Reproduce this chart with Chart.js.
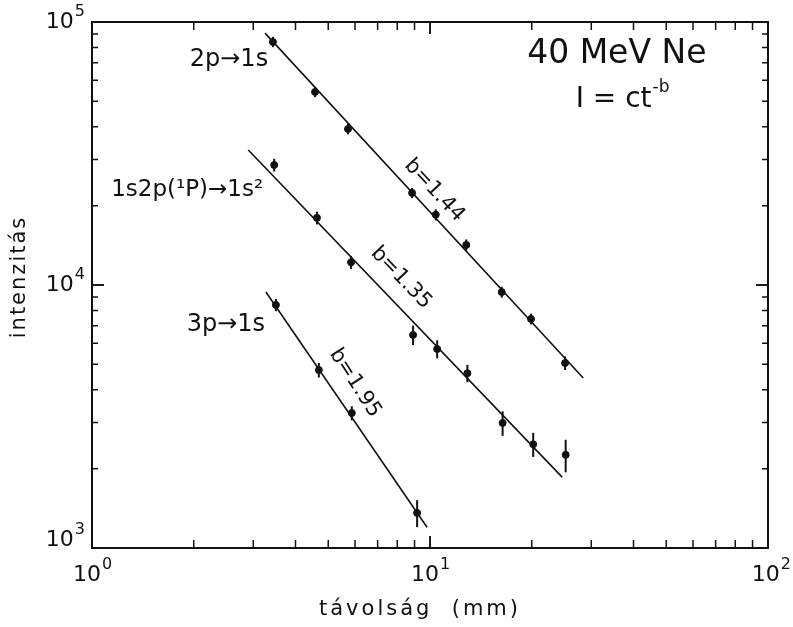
<!DOCTYPE html>
<html>
<head>
  <meta charset="utf-8">
  <title>40 MeV Ne - intenzitás</title>
  <script src="https://cdn.jsdelivr.net/npm/chart.js"></script>
  <style>
    body { margin: 0; background: #fff; }
    #wrap { width: 793px; height: 627px; }
  </style>
</head>
<body>
<div id="wrap"><canvas id="chart"></canvas></div>

<script>
// távolság (mm) / intenzitás
const x2p = [3.43, 4.57, 5.72, 8.85, 10.4, 12.8, 16.3, 19.9, 25.1];
const y2p = [84000, 54200, 39200, 22400, 18500, 14200, 9400, 7430, 5050];
const e2p = [3800, 2400, 1800, 1000, 900, 700, 450, 350, 300];

const x1s2p = [3.46, 4.63, 5.84, 8.91, 10.5, 12.9, 16.4, 20.2, 25.2];
const y1s2p = [28600, 18000, 12200, 6460, 5710, 4620, 2990, 2480, 2260];
const e1s2p = [1600, 1000, 700, 550, 450, 350, 320, 260, 320];

const x3p = [3.50, 4.69, 5.87, 9.16];
const y3p = [8400, 4750, 3260, 1360];
const e3p = [450, 300, 200, 160];

// fitted lines I = c t^-b (end points)
const fit2p = [[3.25, 90700], [28.4, 4430]];
const fit1s2p = [[2.90, 32600], [24.6, 1860]];
const fit3p = [[3.27, 9400], [9.80, 1200]];

const xDecades = [0, 1, 2];
const yDecades = [3, 4, 5];

const FONT = '"DejaVu Sans", sans-serif';
const INK = '#111';

function pts(xs, ys) { return xs.map((x, i) => ({ x: x, y: ys[i] })); }

const notes = [
  { text: '2p→1s', x: 3.32, y: 71800, align: 'right', size: 24, angle: 0 },
  { text: '1s2p(¹P)→1s²', x: 3.21, y: 22900, align: 'right', size: 23, angle: 0 },
  { text: '3p→1s', x: 3.25, y: 7050, align: 'right', size: 24, angle: 0 },
  { text: '40 MeV Ne', x: 35.7, y: 75000, align: 'center', size: 33, angle: 0 },
  { text: 'I = ct', sup: '-b', x: 37.0, y: 50500, align: 'center', size: 28, angle: 0 },
  { text: 'b=1.44', x: 10.3, y: 22900, align: 'center', size: 21, angle: 47 },
  { text: 'b=1.35', x: 8.21, y: 10650, align: 'center', size: 21, angle: 46 },
  { text: 'b=1.95', x: 6.0, y: 4240, align: 'center', size: 21, angle: 57 }
];

const errorBars = {
  id: 'errorBars',
  afterDatasetsDraw(chart) {
    const ctx = chart.ctx, xs = chart.scales.x, ys = chart.scales.y;
    const sets = [[x2p, y2p, e2p], [x1s2p, y1s2p, e1s2p], [x3p, y3p, e3p]];
    ctx.save();
    ctx.strokeStyle = INK;
    ctx.lineWidth = 2;
    sets.forEach(([xv, yv, ev]) => {
      xv.forEach((x, i) => {
        const px = xs.getPixelForValue(x);
        ctx.beginPath();
        ctx.moveTo(px, ys.getPixelForValue(yv[i] + ev[i]));
        ctx.lineTo(px, ys.getPixelForValue(yv[i] - ev[i]));
        ctx.stroke();
      });
    });
    ctx.restore();
  }
};

const frame = {
  id: 'frame',
  afterDraw(chart) {
    const ctx = chart.ctx, xs = chart.scales.x, ys = chart.scales.y;
    const a = chart.chartArea;
    ctx.save();
    ctx.strokeStyle = INK;
    ctx.fillStyle = INK;
    ctx.lineWidth = 2;
    ctx.strokeRect(a.left, a.top, a.right - a.left, a.bottom - a.top);

    // inward ticks on all four sides
    ctx.lineWidth = 1.5;
    for (let d = 0; d < 2; d++) {
      for (let m = 1; m <= 10; m++) {
        const v = m * Math.pow(10, d);
        const px = xs.getPixelForValue(v);
        const len = (m === 1 || m === 10) ? 12 : 8;
        ctx.beginPath();
        ctx.moveTo(px, a.bottom); ctx.lineTo(px, a.bottom - len);
        ctx.moveTo(px, a.top); ctx.lineTo(px, a.top + len);
        ctx.stroke();
      }
    }
    for (let d = 3; d < 5; d++) {
      for (let m = 1; m <= 10; m++) {
        const v = m * Math.pow(10, d);
        const py = ys.getPixelForValue(v);
        const len = (m === 1 || m === 10) ? 12 : 6;
        ctx.beginPath();
        ctx.moveTo(a.left, py); ctx.lineTo(a.left + len, py);
        ctx.moveTo(a.right, py); ctx.lineTo(a.right - len, py);
        ctx.stroke();
      }
    }

    // power-of-ten tick labels
    function pow10(px, py, exp, align) {
      ctx.font = '22px ' + FONT;
      const w10 = ctx.measureText('10').width;
      ctx.font = '16px ' + FONT;
      const we = ctx.measureText(String(exp)).width;
      let left = px;
      if (align === 'center') left = px - (w10 + we) / 2;
      if (align === 'right') left = px - (w10 + we);
      ctx.textAlign = 'left';
      ctx.textBaseline = 'middle';
      ctx.font = '22px ' + FONT;
      ctx.fillText('10', left, py);
      ctx.font = '16px ' + FONT;
      ctx.fillText(String(exp), left + w10 + 1, py - 10);
    }
    xDecades.forEach((d, i) => {
      const px = xs.getPixelForValue(Math.pow(10, d));
      pow10(i === 2 ? px + 22 : px, a.bottom + 27, d, i === 2 ? 'right' : 'center');
    });
    yDecades.forEach((d, i) => {
      const py = ys.getPixelForValue(Math.pow(10, d));
      pow10(a.left - 8, i === 0 ? py - 8 : py, d, 'right');
    });

    // annotations
    notes.forEach(n => {
      const px = xs.getPixelForValue(n.x), py = ys.getPixelForValue(n.y);
      ctx.save();
      ctx.translate(px, py);
      ctx.rotate(n.angle * Math.PI / 180);
      ctx.font = n.size + 'px ' + FONT;
      ctx.textBaseline = 'middle';
      if (n.sup) {
        const w = ctx.measureText(n.text).width;
        const supSize = Math.round(n.size * 0.6);
        ctx.font = supSize + 'px ' + FONT;
        const ws = ctx.measureText(n.sup).width;
        const left = -(w + ws) / 2;
        ctx.textAlign = 'left';
        ctx.font = n.size + 'px ' + FONT;
        ctx.fillText(n.text, left, 0);
        ctx.font = supSize + 'px ' + FONT;
        ctx.fillText(n.sup, left + w + 1, -n.size * 0.45);
      } else {
        ctx.textAlign = n.align;
        ctx.fillText(n.text, 0, 0);
      }
      ctx.restore();
    });

    // axis titles
    ctx.font = '21px ' + FONT;
    ctx.textAlign = 'center';
    ctx.textBaseline = 'middle';
    ctx.letterSpacing = '3px';
    ctx.fillText('távolság  (mm)', (a.left + a.right) / 2 - 10, a.bottom + 62);
    ctx.save();
    ctx.translate(20, (a.top + a.bottom) / 2 - 8);
    ctx.rotate(-Math.PI / 2);
    ctx.letterSpacing = '2px';
    ctx.fillText('intenzitás', 0, 0);
    ctx.restore();
    ctx.restore();
  }
};

const pointStyle = { showLine: false, pointRadius: 3.5, pointBackgroundColor: INK, pointBorderColor: INK, borderColor: INK };
const lineStyle = { showLine: true, pointRadius: 0, borderColor: INK, borderWidth: 1.6 };

new Chart(document.getElementById('chart'), {
  type: 'scatter',
  data: {
    datasets: [
      Object.assign({ label: '2p→1s', data: pts(x2p, y2p) }, pointStyle),
      Object.assign({ label: '1s2p(¹P)→1s²', data: pts(x1s2p, y1s2p) }, pointStyle),
      Object.assign({ label: '3p→1s', data: pts(x3p, y3p) }, pointStyle),
      Object.assign({ label: 'b=1.44', data: fit2p.map(p => ({ x: p[0], y: p[1] })) }, lineStyle),
      Object.assign({ label: 'b=1.35', data: fit1s2p.map(p => ({ x: p[0], y: p[1] })) }, lineStyle),
      Object.assign({ label: 'b=1.95', data: fit3p.map(p => ({ x: p[0], y: p[1] })) }, lineStyle)
    ]
  },
  options: {
    responsive: true,
    maintainAspectRatio: false,
    animation: false,
    layout: { padding: { left: 92, right: 25, top: 22, bottom: 79 } },
    plugins: { legend: { display: false }, tooltip: { enabled: false } },
    scales: {
      x: {
        type: 'logarithmic', min: 1, max: 100,
        grid: { display: false, drawTicks: false },
        border: { display: false },
        ticks: { display: false }
      },
      y: {
        type: 'logarithmic', min: 1000, max: 100000,
        grid: { display: false, drawTicks: false },
        border: { display: false },
        ticks: { display: false }
      }
    }
  },
  plugins: [errorBars, frame]
});
</script>
</body>
</html>
